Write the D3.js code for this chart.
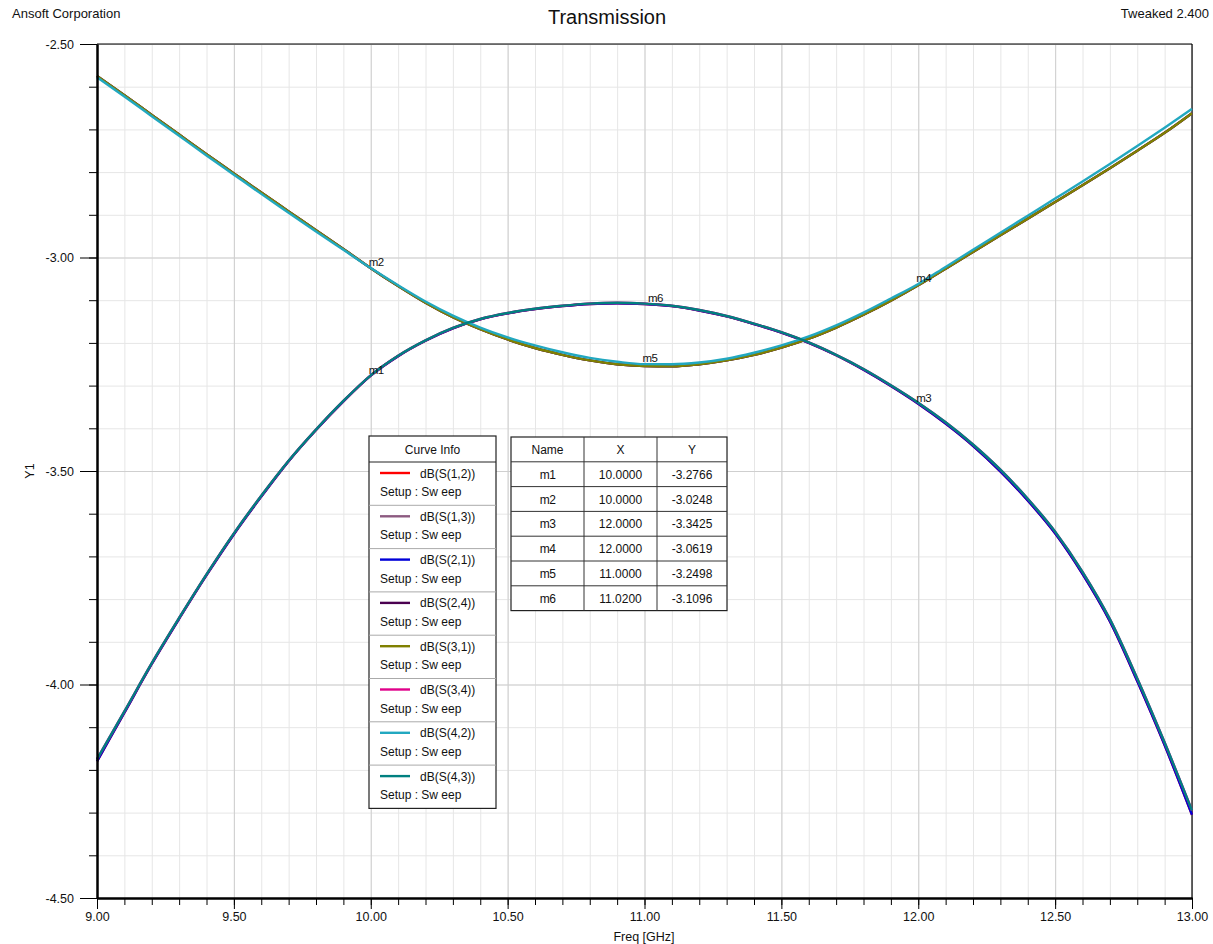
<!DOCTYPE html>
<html>
<head>
<meta charset="utf-8">
<script src="https://cdn.jsdelivr.net/npm/d3@7"></script>
<style>
	body { margin: 0; background: #fff; }
	svg { font-family: 'Liberation Sans', Arial, sans-serif; }
	.o-grid--minor line { stroke: #e6e6e6; }
	.o-grid--major line { stroke: #cfcfcf; }
	.o-grid path { display: none; }
	.o-axis path { stroke: #000; stroke-width: 2; }
	.o-axis line { stroke: #000; }
	.o-axis text { font-size: 12.5px; fill: #111; }
</style>
</head>
<body>
<div id="chart"></div>
<script>
// frequency points (GHz)
var freq = [9.0, 9.1, 9.2, 9.3, 9.4, 9.5, 9.6, 9.7, 9.8, 9.9,
	10.0, 10.1, 10.2, 10.3, 10.4, 10.5, 10.6, 10.7, 10.8, 10.9,
	11.0, 11.1, 11.2, 11.3, 11.4, 11.5, 11.6, 11.7, 11.8, 11.9,
	12.0, 12.1, 12.2, 12.3, 12.4, 12.5, 12.6, 12.7, 12.8, 12.9, 13.0];

// dome shaped curves (through path)
var domeCurve = [-4.180, -4.066, -3.952, -3.846, -3.744, -3.648, -3.560, -3.477, -3.404, -3.337,
	-3.2766, -3.231, -3.195, -3.166, -3.145, -3.131, -3.121, -3.114, -3.109, -3.107,
	-3.109, -3.114, -3.124, -3.138, -3.156, -3.176, -3.200, -3.229, -3.263, -3.301,
	-3.3425, -3.389, -3.441, -3.501, -3.569, -3.646, -3.741, -3.852, -3.992, -4.142, -4.305];
var domeCurveB = [-4.175, -4.063, -3.950, -3.844, -3.742, -3.646, -3.558, -3.476, -3.403, -3.336,
	-3.2760, -3.230, -3.194, -3.165, -3.144, -3.130, -3.120, -3.113, -3.108, -3.106,
	-3.108, -3.113, -3.123, -3.137, -3.155, -3.175, -3.199, -3.228, -3.261, -3.299,
	-3.3400, -3.386, -3.438, -3.497, -3.565, -3.642, -3.736, -3.847, -3.986, -4.136, -4.295];

// bowl shaped curves (coupled path)
var bowlCurve = [-2.575, -2.620, -2.666, -2.712, -2.758, -2.803, -2.848, -2.892, -2.936, -2.980,
	-3.0250, -3.067, -3.106, -3.140, -3.168, -3.192, -3.212, -3.228, -3.241, -3.250,
	-3.2540, -3.255, -3.250, -3.241, -3.228, -3.211, -3.190, -3.164, -3.134, -3.101,
	-3.0650, -3.026, -2.987, -2.948, -2.909, -2.870, -2.831, -2.791, -2.750, -2.708, -2.662];
var bowlCurveB = [-2.578, -2.623, -2.669, -2.715, -2.761, -2.806, -2.851, -2.895, -2.939, -2.982,
	-3.0248, -3.065, -3.103, -3.136, -3.164, -3.187, -3.206, -3.222, -3.235, -3.244,
	-3.2498, -3.250, -3.246, -3.237, -3.223, -3.206, -3.185, -3.159, -3.129, -3.096,
	-3.0619, -3.022, -2.982, -2.942, -2.902, -2.862, -2.822, -2.781, -2.739, -2.696, -2.652];

var curveNames = ['dB(S(1,2))', 'dB(S(1,3))', 'dB(S(2,1))', 'dB(S(2,4))',
	'dB(S(3,1))', 'dB(S(3,4))', 'dB(S(4,2))', 'dB(S(4,3))'];
var curveColors = ['#ff0000', '#8c5a80', '#0000d8', '#4a0050',
	'#808000', '#e0008a', '#22a8c0', '#008080'];
var curveValues = [domeCurve, bowlCurve, domeCurve, bowlCurve,
	bowlCurve, domeCurveB, bowlCurveB, domeCurveB];

// markers
var markerNames = ['m1', 'm2', 'm3', 'm4', 'm5', 'm6'];
var markerX = [10.0, 10.0, 12.0, 12.0, 11.0, 11.02];
var markerY = [-3.2766, -3.0248, -3.3425, -3.0619, -3.2498, -3.1096];

var xMajorTicks = [9.0, 9.5, 10.0, 10.5, 11.0, 11.5, 12.0, 12.5, 13.0];
var yMajorTicks = [-2.5, -3.0, -3.5, -4.0, -4.5];

var W = 1213, H = 944;
var margin = { top: 44, right: 21, bottom: 46, left: 97 };
var width = W - margin.left - margin.right;
var height = H - margin.top - margin.bottom;

// plain hyphen for negatives
var fmt = function(p) {
	var f = d3.format('.' + p + 'f');
	return function(v) { return f(v).replace('\u2212', '-'); };
};

var svg = d3.select('#chart').append('svg')
	.attr('width', W)
	.attr('height', H);

var g = svg.append('g')
	.attr('transform', 'translate(' + margin.left + ',' + margin.top + ')');

var x = d3.scaleLinear().domain([9, 13]).range([0, width]);
var y = d3.scaleLinear().domain([-4.5, -2.5]).range([height, 0]);

// grid
g.append('g')
	.attr('class', 'o-grid o-grid--minor')
	.attr('transform', 'translate(0,' + height + ')')
	.call(d3.axisBottom(x).ticks(40).tickSize(-height).tickFormat(''));
g.append('g')
	.attr('class', 'o-grid o-grid--minor')
	.call(d3.axisLeft(y).ticks(20).tickSize(-width).tickFormat(''));
g.append('g')
	.attr('class', 'o-grid o-grid--major')
	.attr('transform', 'translate(0,' + height + ')')
	.call(d3.axisBottom(x).tickValues(xMajorTicks).tickSize(-height).tickFormat(''));
g.append('g')
	.attr('class', 'o-grid o-grid--major')
	.call(d3.axisLeft(y).tickValues(yMajorTicks).tickSize(-width).tickFormat(''));

// top and right frame
g.append('line').attr('x1', 0).attr('x2', width).attr('y1', 0).attr('y2', 0)
	.attr('stroke', '#000').attr('stroke-width', 1.2);
g.append('line').attr('x1', width).attr('x2', width).attr('y1', 0).attr('y2', height)
	.attr('stroke', '#000').attr('stroke-width', 1.2);

// curves
var line = d3.line()
	.x(function(d, i) { return x(freq[i]); })
	.y(function(d) { return y(d); })
	.curve(d3.curveMonotoneX);

g.append('g').attr('class', 'o-curves')
	.selectAll('path')
	.data(curveValues)
	.enter().append('path')
	.attr('d', line)
	.attr('fill', 'none')
	.attr('stroke', function(d, i) { return curveColors[i]; })
	.attr('stroke-width', 2.4);

// markers
g.selectAll('.o-marker')
	.data(markerNames)
	.enter().append('text')
	.attr('class', 'o-marker')
	.attr('x', function(d, i) { return x(markerX[i]) - 2; })
	.attr('y', function(d, i) { return y(markerY[i]) - 2; })
	.attr('font-size', 11.5)
	.attr('fill', '#111')
	.attr('letter-spacing', -0.6)
	.text(function(d) { return d; });

// axes
g.append('g')
	.attr('class', 'o-axis')
	.attr('transform', 'translate(0,' + height + ')')
	.call(d3.axisBottom(x).ticks(40).tickSize(7).tickFormat('').tickSizeOuter(0));
g.append('g')
	.attr('class', 'o-axis')
	.attr('transform', 'translate(0,' + height + ')')
	.call(d3.axisBottom(x).tickValues(xMajorTicks).tickSize(11).tickPadding(3)
		.tickFormat(fmt(2)).tickSizeOuter(0));
g.append('g')
	.attr('class', 'o-axis')
	.call(d3.axisLeft(y).ticks(20).tickSize(8).tickFormat('').tickSizeOuter(0));
g.append('g')
	.attr('class', 'o-axis')
	.call(d3.axisLeft(y).tickValues(yMajorTicks).tickSize(17).tickPadding(6)
		.tickFormat(fmt(2)).tickSizeOuter(0));

// titles
svg.append('text').attr('x', 607).attr('y', 24).attr('text-anchor', 'middle')
	.attr('font-size', 20).attr('fill', '#111').text('Transmission');
svg.append('text').attr('x', 12).attr('y', 18)
	.attr('font-size', 13).attr('fill', '#111').text('Ansoft Corporation');
svg.append('text').attr('x', 1209).attr('y', 18).attr('text-anchor', 'end')
	.attr('font-size', 13).attr('fill', '#111').text('Tweaked 2.400');
svg.append('text').attr('x', 644).attr('y', 941).attr('text-anchor', 'middle')
	.attr('font-size', 12.5).attr('fill', '#111').text('Freq [GHz]');
svg.append('text').attr('transform', 'translate(34,471) rotate(-90)').attr('text-anchor', 'middle')
	.attr('font-size', 12.5).attr('fill', '#111').text('Y1');

// curve info legend
var legend = svg.append('g').attr('transform', 'translate(369,436)');
var lw = 127, headH = 26, rowH = 43.3;
legend.append('rect').attr('width', lw).attr('height', headH + rowH * curveNames.length)
	.attr('fill', '#fff').attr('stroke', '#222').attr('stroke-width', 1.2);
legend.append('text').attr('x', lw / 2).attr('y', headH / 2 + 4.5).attr('text-anchor', 'middle')
	.attr('font-size', 12).attr('fill', '#111').text('Curve Info');
var entry = legend.selectAll('.o-entry')
	.data(curveNames)
	.enter().append('g')
	.attr('class', 'o-entry')
	.attr('transform', function(d, i) { return 'translate(0,' + (headH + i * rowH) + ')'; });
entry.append('line').attr('x1', 0).attr('x2', lw).attr('y1', 0).attr('y2', 0)
	.attr('stroke', function(d, i) { return i === 0 ? '#222' : '#aaa'; });
entry.append('line').attr('x1', 11).attr('x2', 41).attr('y1', 11).attr('y2', 11)
	.attr('stroke', function(d, i) { return curveColors[i]; }).attr('stroke-width', 2.4);
entry.append('text').attr('x', 51).attr('y', 15.5)
	.attr('font-size', 12).attr('fill', '#111').text(function(d) { return d; });
entry.append('text').attr('x', 11).attr('y', 34)
	.attr('font-size', 12).attr('fill', '#111').text('Setup : Sw eep');

// marker table
var table = svg.append('g').attr('transform', 'translate(511,437)');
var colX = [0, 73, 146, 216];
var tRowH = 24.8;
var tableRows = [['Name', 'X', 'Y']];
markerNames.forEach(function(d, i) {
	tableRows.push([d, fmt(4)(markerX[i]), fmt(4)(markerY[i])]);
});
table.append('rect').attr('width', colX[3]).attr('height', tRowH * tableRows.length)
	.attr('fill', '#fff').attr('stroke', '#222').attr('stroke-width', 1.2);
tableRows.forEach(function(row, r) {
	if (r > 0) {
		table.append('line').attr('x1', 0).attr('x2', colX[3])
			.attr('y1', r * tRowH).attr('y2', r * tRowH).attr('stroke', '#333');
	}
	row.forEach(function(cell, c) {
		table.append('text')
			.attr('x', (colX[c] + colX[c + 1]) / 2)
			.attr('y', r * tRowH + tRowH / 2 + 4.5)
			.attr('text-anchor', 'middle')
			.attr('font-size', 12)
			.attr('letter-spacing', c === 0 && r > 0 ? -0.6 : 0)
			.attr('fill', '#111')
			.text(cell);
	});
});
[1, 2].forEach(function(c) {
	table.append('line').attr('x1', colX[c]).attr('x2', colX[c])
		.attr('y1', 0).attr('y2', tRowH * tableRows.length).attr('stroke', '#333');
});
</script>
</body>
</html>
